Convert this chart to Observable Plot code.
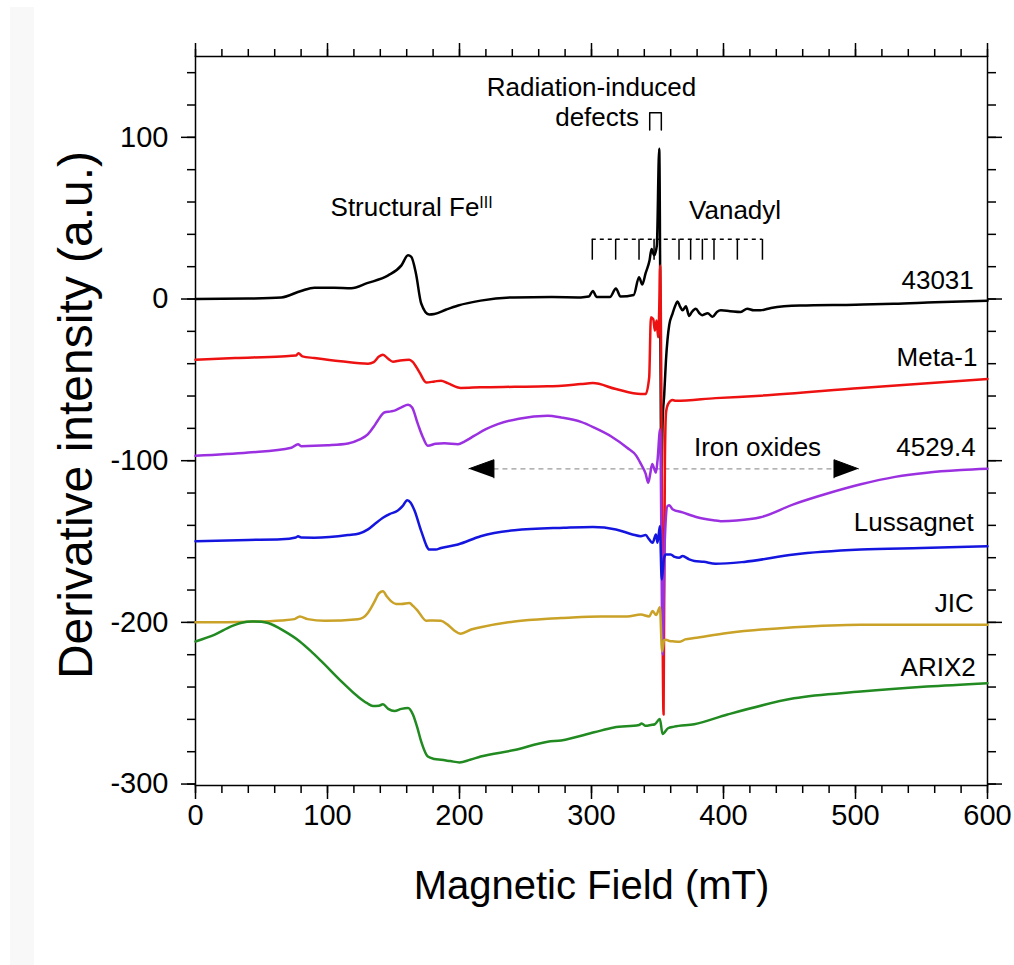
<!DOCTYPE html>
<html><head><meta charset="utf-8">
<script src="https://cdn.jsdelivr.net/npm/d3@7"></script>
<script src="https://cdn.jsdelivr.net/npm/@observablehq/plot@0.6"></script>
<style>
body{margin:0;background:#fff;}
#strip{position:absolute;left:10px;top:7px;width:24px;height:958px;background:#f8f8f8;}
#chart{position:absolute;left:0;top:0;}
</style></head><body>
<div id="strip"></div><div id="chart"></div>
<script>
// ---------- data ----------
const seriesNames = ["43031", "Meta-1", "4529.4", "Lussagnet", "JIC", "ARIX2"];
const seriesColors = ["#000000", "#ee1111", "#9b30e0", "#1515e0", "#c9a227", "#218a21"];

const s43031 = [[0,0],[40,0.3],[65,1],[80,5],[90,7],[105,7],[118,6.7],[130,9.8],[146,14.6],[156,20.8],[161,27],[163.5,26],[167,15.8],[171,-2.8],[177,-9.6],[181,-9.3],[190,-6.5],[199,-4],[216,-1],[241,1],[270,1.2],[292,1],[298,1.5],[301,5],[304,1.2],[314,1.2],[318.5,6.5],[322,1.5],[332,2.5],[336,13.5],[338.5,9],[341,16],[344,24],[345.5,31],[347.5,27],[349.5,33],[351.3,93],[353,-110],[353.9,-75],[355.1,-59],[356.4,-38],[357.6,-25],[358.9,-16],[361.4,-9],[363.5,-4],[365.2,-1.5],[367,-4.5],[369,-7],[371.5,-4.5],[374,-10.5],[376,-8],[379,-6],[382,-9],[384,-10],[388,-8.8],[391.7,-11],[395,-8],[398,-7],[405,-7.5],[413,-8],[418,-6],[423,-7],[428,-7],[436,-5.5],[458,-4],[500,-3.5],[529,-3],[560,-2],[600,-1]];

const sMeta1 = [[0,-37.5],[30,-36.5],[65,-35.5],[76,-35],[78,-33.6],[81,-35.5],[90,-36.5],[110,-38.5],[130.7,-40],[135,-39],[139,-35.5],[142,-34.4],[146,-37],[149.6,-38.8],[155,-38],[162,-37.5],[164.7,-39],[169.7,-45.4],[174.8,-51.6],[181,-51],[186,-50.5],[191,-52],[201,-55],[216,-54.6],[241.6,-54.3],[266.8,-54],[292,-52.6],[301,-52],[318.5,-55.7],[337.4,-58.8],[341,-58.8],[343.7,-48.5],[345,-11.3],[346.8,-12.5],[348,-19.5],[349.3,-13.3],[350.5,-23.7],[351.2,-10],[352,20.8],[354.6,-257],[355.6,-100],[356.5,-70],[358,-65],[361.4,-62.5],[364,-63],[394,-61.3],[428,-59.8],[504,-55],[600,-49.5]];

const s4529 = [[0,-97],[40,-95],[72.6,-92],[77.7,-89.8],[80,-91],[100,-90.5],[115.5,-89.4],[124,-87],[130.7,-83.6],[135,-79],[138,-75.3],[143,-70.2],[148,-69.5],[150.8,-69],[156,-67],[161,-65.4],[164,-67],[168.5,-77.4],[172,-85],[176,-90.8],[182,-89.5],[188.6,-89.2],[198.8,-89.8],[204,-88],[211,-84.7],[220,-80.5],[229,-77.4],[245,-74],[266.8,-72.2],[277,-73.3],[292,-76],[302,-79.5],[315,-85],[327,-92],[334,-97],[337.4,-102],[341,-108],[343,-113.6],[344.5,-108],[346,-102],[347.5,-105],[348.8,-107.4],[350,-100],[352,-80.5],[353.9,-220],[355.5,-150],[357.6,-128],[359,-127.6],[361.4,-130],[369,-132],[380,-135],[394.2,-137],[398,-137.4],[410,-137],[428,-135],[453,-127],[480,-120],[504,-114.6],[530,-110],[554,-107.4],[580,-105.8],[600,-105]];

const sLussagnet = [[0,-149.8],[40,-149],[65,-148.6],[76,-147.5],[77.7,-146.7],[80,-147.5],[90,-147.6],[115.5,-146],[124,-145],[130.7,-142.5],[136,-139],[142,-135.3],[147,-133],[153,-131],[157,-128],[160.4,-124.5],[163,-126],[166,-131],[171,-143.6],[177.3,-155],[182,-155],[186,-154],[198.8,-151.8],[216,-146.7],[241.6,-143],[279,-141.5],[301,-141],[318.5,-142.5],[331,-145.6],[337.4,-146.7],[341,-146],[343.7,-148.7],[346.3,-150.8],[348.8,-145.6],[350,-150.8],[351.8,-140.5],[353.2,-173.5],[355,-160],[356.4,-158],[360,-158],[363,-159.5],[366.4,-160],[369,-159],[374,-161],[378,-162],[385,-162.5],[394,-163.8],[415.6,-162.6],[453.4,-158],[504,-155],[550,-154],[600,-152.9]];

const sJIC = [[0,-200],[40,-199.6],[65,-198.8],[75,-198],[79,-196.3],[85,-198],[98,-199],[123,-198],[127,-197],[130.7,-194],[135.7,-187],[139,-182],[142,-180.8],[145,-184],[148.3,-187],[152,-188.6],[156,-188.6],[162,-188],[165,-190],[168.5,-193],[174.8,-199],[180,-198.8],[186,-199],[191,-201.4],[196,-205],[201,-207],[208.8,-204.4],[216,-203],[241.6,-199.4],[266.8,-197.7],[277,-197.3],[307,-196.3],[327,-196.3],[337.4,-195.2],[343.7,-196.3],[346.3,-193],[349,-195.5],[351.8,-190.7],[353.5,-218],[355,-211],[356.4,-210.7],[359,-211.5],[362.6,-211.8],[367,-212],[371,-210.5],[377.8,-209.7],[403,-206.6],[453.4,-203],[504,-201.4],[600,-201.4]];

const sARIX2 = [[0,-211.8],[14.6,-207.6],[27,-202.5],[35,-200.2],[42.4,-199.4],[50,-199.6],[55,-200.4],[67.6,-205.6],[79,-211.8],[87,-217.5],[95.3,-224],[110.5,-236.5],[123,-245.9],[130,-250],[134.4,-251.7],[139,-251.5],[142,-250.7],[146,-253.5],[150.8,-254.8],[156,-253.5],[161,-253],[164.7,-257],[168,-265],[171,-273.8],[176,-283],[181,-284.5],[186,-285],[193,-285.8],[200,-286.6],[208,-285],[216,-283],[241.6,-279],[266.8,-273.8],[277,-273],[302,-268],[317,-265],[336,-263.5],[338,-262.5],[341,-264],[345,-263.5],[348,-263],[351.8,-259.7],[353.8,-269],[358,-265.5],[362.6,-264.5],[377.8,-263],[403,-257],[453.4,-247],[504,-242.8],[554,-239.7],[600,-237.6]];

const seriesData = [s43031, sMeta1, s4529, sLussagnet, sJIC, sARIX2];

// tick values
const xMajorTicks = [0, 100, 200, 300, 400, 500, 600];
const xMinorTicks = d3.range(0, 601, 20);
const yMajorTicks = [-300, -200, -100, 0, 100];
const yMinorTicks = d3.range(-300, 141, 20);

// series labels (right side)
const labelX = [589.6, 592.4, 591.1, 589.6, 589.6, 591.1];
const labelY = [11.4, -36, -91.7, -138.5, -188.6, -227.8];

// annotations
const annText = ["Radiation-induced", "defects", "Vanadyl", "Iron oxides"];
const annX = [300, 336, 373.9, 377.6];
const annY = [131, 112.4, 54.7, -91.7];
const annAnchor = ["middle", "end", "start", "start"];
const feText = "Structural Fe";
const feX = 102.3, feY = 56.8;

const defectBracket = [[344.1,104.5],[344.1,115.2],[352.9,115.2],[352.9,104.5]];
const vanadylLine = {x1: 300.6, x2: 429.5, y: 36.9, yTick: 24};
const vanadylTicks = [300.6, 318.3, 336, 347.4, 366.3, 375.1, 384, 392.8, 410.5, 429.5];
const ironArrow = {y: -105, x1: 226.1, x2: 483.7, half: 5.6, leftTip: 207.1, rightTip: 502.2};

// ---------- build ----------
const rows = seriesData.flatMap((s, i) => s.map(([f, v]) => ({name: seriesNames[i], field: f, value: v})));
const labelRows = seriesNames.map((n, i) => ({name: n, x: labelX[i], y: labelY[i]}));
const annRows = annText.map((t, i) => ({t, x: annX[i], y: annY[i], a: annAnchor[i]}));
const heads = [
  {id: "L", x: ironArrow.leftTip, y: ironArrow.y},
  {id: "L", x: ironArrow.x1, y: ironArrow.y + ironArrow.half},
  {id: "L", x: ironArrow.x1, y: ironArrow.y - ironArrow.half},
  {id: "R", x: ironArrow.rightTip, y: ironArrow.y},
  {id: "R", x: ironArrow.x2, y: ironArrow.y + ironArrow.half},
  {id: "R", x: ironArrow.x2, y: ironArrow.y - ironArrow.half}
];

const fontFam = "'Liberation Sans', Arial, Helvetica, sans-serif";
const noLabel = () => "";

const plot = Plot.plot({
  width: 1014, height: 965,
  marginLeft: 195, marginRight: 27, marginTop: 56, marginBottom: 180,
  style: {fontFamily: fontFam, background: "transparent", color: "black", overflow: "visible"},
  x: {domain: [0, 600], label: null},
  y: {domain: [-300.9, 150], label: null},
  color: {domain: seriesNames, range: seriesColors},
  marks: [
    // minor ticks
    Plot.axisX(xMinorTicks, {anchor: "bottom", tickSize: 8, tickFormat: noLabel, strokeWidth: 1.5, label: null}),
    Plot.axisX(xMinorTicks, {anchor: "top", tickSize: 8, tickFormat: noLabel, strokeWidth: 1.5, label: null}),
    Plot.axisY(yMinorTicks, {anchor: "left", tickSize: 8, tickFormat: noLabel, strokeWidth: 1.5, label: null}),
    Plot.axisY(yMinorTicks, {anchor: "right", tickSize: 8, tickFormat: noLabel, strokeWidth: 1.5, label: null}),
    // major ticks
    Plot.axisX(xMajorTicks, {anchor: "bottom", tickSize: 14, tickPadding: 5, fontSize: 29, strokeWidth: 1.5, tickFormat: d => String(d), label: null}),
    Plot.axisX(xMajorTicks, {anchor: "top", tickSize: 14, tickFormat: noLabel, strokeWidth: 1.5, label: null}),
    Plot.axisY(yMajorTicks, {anchor: "left", tickSize: 14, tickPadding: 13, fontSize: 29, strokeWidth: 1.5, tickFormat: d => String(d), label: null}),
    Plot.axisY(yMajorTicks, {anchor: "right", tickSize: 14, tickFormat: noLabel, strokeWidth: 1.5, label: null}),
    Plot.frame({stroke: "black", strokeWidth: 1.5}),
    // annotations
    Plot.ruleY([vanadylLine], {x1: "x1", x2: "x2", y: "y", stroke: "black", strokeWidth: 1.5, strokeDasharray: "4,4"}),
    Plot.ruleX(vanadylTicks, {x: d => d, y1: vanadylLine.yTick, y2: vanadylLine.y, stroke: "black", strokeWidth: 1.5}),
    Plot.line(defectBracket, {x: d => d[0], y: d => d[1], stroke: "black", strokeWidth: 1.5}),
    Plot.ruleY([ironArrow], {x1: "x1", x2: "x2", y: "y", stroke: "#9a9a9a", strokeWidth: 1.2, strokeDasharray: "5,4"}),
    Plot.line(heads, {x: "x", y: "y", z: "id", fill: "black", stroke: "black", strokeWidth: 1}),
    // data
    Plot.line(rows, {x: "field", y: "value", z: "name", stroke: "name", strokeWidth: 2.5, strokeLinejoin: "round", curve: "monotone-x"}),
    // text
    Plot.text(labelRows, {x: "x", y: "y", text: "name", textAnchor: "end", fontSize: 26, fill: "black"}),
    Plot.text(annRows.filter(d => d.a === "middle"), {x: "x", y: "y", text: "t", textAnchor: "middle", fontSize: 26, fill: "black"}),
    Plot.text(annRows.filter(d => d.a === "end"), {x: "x", y: "y", text: "t", textAnchor: "end", fontSize: 26, fill: "black"}),
    Plot.text(annRows.filter(d => d.a === "start"), {x: "x", y: "y", text: "t", textAnchor: "start", fontSize: 26, fill: "black"}),
    Plot.text([feText], {x: () => feX, y: () => feY, text: d => d, textAnchor: "start", fontSize: 26, fill: "black"}),
    // axis titles
    Plot.text(["Magnetic Field (mT)"], {frameAnchor: "bottom", text: d => d, textAnchor: "middle", lineAnchor: "middle", dy: 101, fontSize: 40, fill: "black"}),
    Plot.text(["Derivative intensity (a.u.)"], {frameAnchor: "left", text: d => d, textAnchor: "middle", lineAnchor: "middle", rotate: -90, dx: -119, dy: -6, fontSize: 48, fill: "black"})
  ]
});

d3.select(plot).selectAll("text").filter(function() { return this.textContent === feText; })
  .append("tspan").attr("dy", "-0.48em").attr("font-size", "16px").text("III");

document.getElementById("chart").appendChild(plot);
</script>
</body></html>
